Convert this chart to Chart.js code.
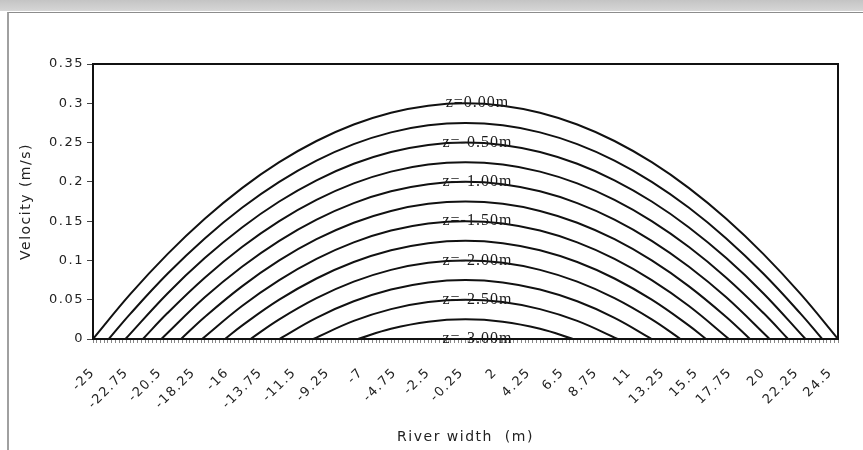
<!DOCTYPE html>
<html>
<head>
<meta charset="utf-8">
<title>Velocity profiles across river width</title>
<script src="https://cdn.jsdelivr.net/npm/chart.js@4.4.0/dist/chart.umd.min.js"></script>
<style>
  html, body { margin: 0; padding: 0; background: #fff; }
  #wrap { position: relative; width: 863px; height: 450px; overflow: hidden; background: #fff; }
  #band { position: absolute; left: 0; top: 0; width: 863px; height: 11px;
          background: linear-gradient(#c4c4c4, #d6d6d6); }
  #frame { position: absolute; left: 7px; top: 12px; width: 900px; height: 460px;
           border-top: 1px solid #8c8c8c; border-left: 2px solid #a0a0a0; }
  #box { position: absolute; left: 0; top: 0; width: 863px; height: 450px; }
</style>
</head>
<body>
<div id="wrap">
  <div id="band"></div>
  <div id="frame"></div>
  <div id="box"><canvas id="profileChart"></canvas></div>
</div>
<script>
// Depth of each velocity profile
const depthNames = [
  "z=0.00m", "z=-0.25m", "z=-0.50m", "z=-0.75m", "z=-1.00m", "z=-1.25m", "z=-1.50m",
  "z=-1.75m", "z=-2.00m", "z=-2.25m", "z=-2.50m", "z=-2.75m", "z=-3.00m"
];

// Position across the river (m) for each profile
const widthX = [
  [-25, -22.5, -20, -17.5, -15, -12.5, -10, -7.5, -5, -2.5, 0, 2.5, 5, 7.5, 10, 12.5, 15, 17.5, 20, 22.5, 25],
  [-23.94, -22.5, -20, -17.5, -15, -12.5, -10, -7.5, -5, -2.5, 0, 2.5, 5, 7.5, 10, 12.5, 15, 17.5, 20, 22.5, 23.94],
  [-22.82, -20, -17.5, -15, -12.5, -10, -7.5, -5, -2.5, 0, 2.5, 5, 7.5, 10, 12.5, 15, 17.5, 20, 22.82],
  [-21.65, -20, -17.5, -15, -12.5, -10, -7.5, -5, -2.5, 0, 2.5, 5, 7.5, 10, 12.5, 15, 17.5, 20, 21.65],
  [-20.41, -17.5, -15, -12.5, -10, -7.5, -5, -2.5, 0, 2.5, 5, 7.5, 10, 12.5, 15, 17.5, 20.41],
  [-19.09, -17.5, -15, -12.5, -10, -7.5, -5, -2.5, 0, 2.5, 5, 7.5, 10, 12.5, 15, 17.5, 19.09],
  [-17.68, -15, -12.5, -10, -7.5, -5, -2.5, 0, 2.5, 5, 7.5, 10, 12.5, 15, 17.68],
  [-16.14, -15, -12.5, -10, -7.5, -5, -2.5, 0, 2.5, 5, 7.5, 10, 12.5, 15, 16.14],
  [-14.43, -12.5, -10, -7.5, -5, -2.5, 0, 2.5, 5, 7.5, 10, 12.5, 14.43],
  [-12.5, -10, -7.5, -5, -2.5, 0, 2.5, 5, 7.5, 10, 12.5],
  [-10.21, -7.5, -5, -2.5, 0, 2.5, 5, 7.5, 10.21],
  [-7.22, -5, -2.5, 0, 2.5, 5, 7.22],
  [-25, 25]
];

// Velocity (m/s) read along each profile
const velocity = [
  [0, 0.057, 0.108, 0.153, 0.192, 0.225, 0.252, 0.273, 0.288, 0.297, 0.3, 0.297, 0.288, 0.273, 0.252, 0.225, 0.192, 0.153, 0.108, 0.057, 0],
  [0, 0.032, 0.083, 0.128, 0.167, 0.2, 0.227, 0.248, 0.263, 0.272, 0.275, 0.272, 0.263, 0.248, 0.227, 0.2, 0.167, 0.128, 0.083, 0.032, 0],
  [0, 0.058, 0.103, 0.142, 0.175, 0.202, 0.223, 0.238, 0.247, 0.25, 0.247, 0.238, 0.223, 0.202, 0.175, 0.142, 0.103, 0.058, 0],
  [0, 0.033, 0.078, 0.117, 0.15, 0.177, 0.198, 0.213, 0.222, 0.225, 0.222, 0.213, 0.198, 0.177, 0.15, 0.117, 0.078, 0.033, 0],
  [0, 0.053, 0.092, 0.125, 0.152, 0.173, 0.188, 0.197, 0.2, 0.197, 0.188, 0.173, 0.152, 0.125, 0.092, 0.053, 0],
  [0, 0.028, 0.067, 0.1, 0.127, 0.148, 0.163, 0.172, 0.175, 0.172, 0.163, 0.148, 0.127, 0.1, 0.067, 0.028, 0],
  [0, 0.042, 0.075, 0.102, 0.123, 0.138, 0.147, 0.15, 0.147, 0.138, 0.123, 0.102, 0.075, 0.042, 0],
  [0, 0.017, 0.05, 0.077, 0.098, 0.113, 0.122, 0.125, 0.122, 0.113, 0.098, 0.077, 0.05, 0.017, 0],
  [0, 0.025, 0.052, 0.073, 0.088, 0.097, 0.1, 0.097, 0.088, 0.073, 0.052, 0.025, 0],
  [0, 0.027, 0.048, 0.063, 0.072, 0.075, 0.072, 0.063, 0.048, 0.027, 0],
  [0, 0.023, 0.038, 0.047, 0.05, 0.047, 0.038, 0.023, 0],
  [0, 0.013, 0.022, 0.025, 0.022, 0.013, 0],
  [0, 0]
];

// Axis tick labels
const riverTicks = [-25, -22.75, -20.5, -18.25, -16, -13.75, -11.5, -9.25, -7, -4.75, -2.5, -0.25,
  2, 4.25, 6.5, 8.75, 11, 13.25, 15.5, 17.75, 20, 22.25, 24.5];
const velocityTicks = ["0", "0.05", "0.1", "0.15", "0.2", "0.25", "0.3", "0.35"];

// Profiles that carry a depth label, and where across the river it sits
const labelledProfiles = [0, 2, 4, 6, 8, 10, 12];
const labelX = 0.8;

const datasets = velocity.map((vals, i) => ({
  label: depthNames[i],
  data: vals.map((v, j) => ({ x: widthX[i][j], y: v })),
  borderColor: "#111",
  borderWidth: 2,
  pointRadius: 0,
  fill: false,
  tension: 0.4,
}));

// The scanned chart's lettering is set wide, so space the axis text out a little
const wideText = {
  id: "wideText",
  beforeLayout(chart) {
    chart.ctx.letterSpacing = "1.5px";
  },
  beforeDraw(chart) {
    chart.ctx.letterSpacing = "1.5px";
  },
};

// Black box round the plot area
const plotFrame = {
  id: "plotFrame",
  afterDatasetsDraw(chart) {
    const a = chart.chartArea;
    const ctx = chart.ctx;
    ctx.save();
    ctx.strokeStyle = "#111";
    ctx.lineWidth = 2;
    ctx.strokeRect(a.left, a.top, a.right - a.left, a.bottom - a.top);
    ctx.restore();
  },
};

// Depth labels written over the crest of every second profile
const depthLabels = {
  id: "depthLabels",
  afterDraw(chart) {
    const ctx = chart.ctx;
    const xs = chart.scales.x;
    const ys = chart.scales.y;
    ctx.save();
    ctx.letterSpacing = "1px";
    ctx.font = "16px 'Liberation Serif', 'Times New Roman', serif";
    ctx.fillStyle = "#1a1a1a";
    ctx.textAlign = "center";
    ctx.textBaseline = "middle";
    labelledProfiles.forEach((i) => {
      const peak = Math.max(...velocity[i]);
      ctx.fillText(depthNames[i], xs.getPixelForValue(labelX), ys.getPixelForValue(peak));
    });
    ctx.restore();
  },
};

const tickFont = { family: "'DejaVu Sans', sans-serif", size: 13 };
const titleFont = { family: "'DejaVu Sans', sans-serif", size: 14 };

new Chart(document.getElementById("profileChart").getContext("2d"), {
  type: "line",
  data: { datasets: datasets },
  options: {
    responsive: true,
    maintainAspectRatio: false,
    animation: false,
    layout: { padding: { left: 18, top: 64, right: 25, bottom: 4 }, autoPadding: false },
    plugins: {
      legend: { display: false },
      tooltip: { enabled: false },
    },
    scales: {
      x: {
        type: "linear",
        min: -25,
        max: 25,
        afterBuildTicks: (scale) => {
          // small tick at every 0.25 m sample
          const t = [];
          for (let k = 0; k <= 200; k++) t.push({ value: -25 + k * 0.25 });
          scale.ticks = t;
        },
        afterFit: (scale) => {
          scale.height = 107;
          scale.paddingLeft = 0;
          scale.paddingRight = 0;
        },
        ticks: {
          autoSkip: false,
          minRotation: 45,
          maxRotation: 45,
          padding: 22,
          color: "#222",
          font: tickFont,
          callback: (value) => {
            const hit = riverTicks.find((t) => Math.abs(t - value) < 1e-6);
            return hit === undefined ? "" : String(hit);
          },
        },
        grid: {
          drawOnChartArea: false,
          drawTicks: true,
          tickLength: 4,
          color: "#888",
        },
        border: { display: true, color: "#111", width: 2 },
        title: {
          display: true,
          text: "River width  (m)",
          color: "#222",
          font: titleFont,
          padding: { top: 4, bottom: 0 },
        },
      },
      y: {
        min: 0,
        max: 0.35,
        afterFit: (scale) => {
          scale.width = 75;
          scale.paddingTop = 0;
          scale.paddingBottom = 0;
        },
        ticks: {
          stepSize: 0.05,
          padding: 3,
          color: "#222",
          font: tickFont,
          callback: (value, index) => velocityTicks[index],
        },
        grid: {
          drawOnChartArea: false,
          drawTicks: true,
          tickLength: 6,
          color: "#444",
        },
        border: { display: true, color: "#111", width: 2 },
        title: {
          display: true,
          text: "Velocity (m/s)",
          color: "#222",
          font: titleFont,
          padding: { top: 0, bottom: 0 },
        },
      },
    },
  },
  plugins: [wideText, plotFrame, depthLabels],
});
</script>
</body>
</html>
